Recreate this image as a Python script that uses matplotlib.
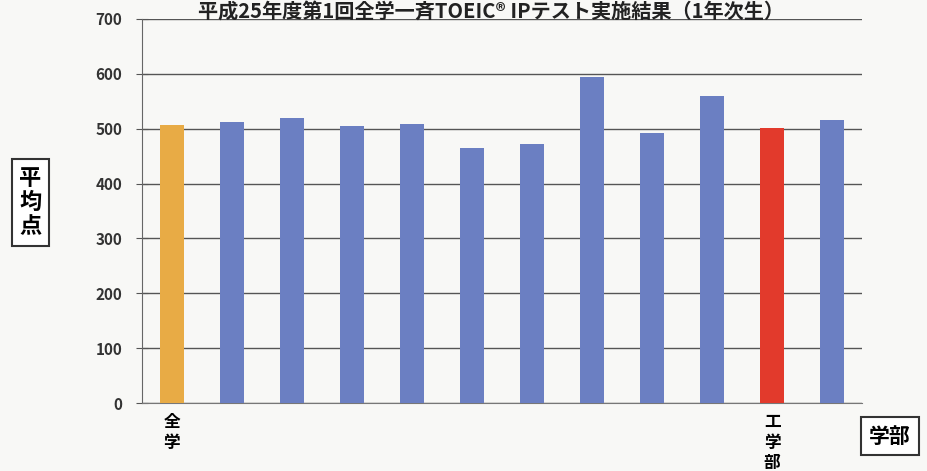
import matplotlib
matplotlib.use("Agg")
import matplotlib.pyplot as plt

plt.rcParams["font.family"] = ["Noto Sans CJK JP", "DejaVu Sans"]

# Data
faculties = ["全学", "", "", "", "", "", "", "", "", "", "工学部", ""]
scores = [507, 513, 519, 504, 509, 464, 472, 594, 492, 560, 502, 515]
colors = ["#e8ab45"] + ["#6b7fc2"] * 9 + ["#e23a2c", "#6b7fc2"]
yticks = [0, 100, 200, 300, 400, 500, 600, 700]

title = "平成25年度第1回全学一斉TOEIC® IPテスト実施結果（1年次生）"

fig = plt.figure(figsize=(9.27, 4.71), dpi=100, facecolor="#f8f8f6")
ax = fig.add_axes([0.153, 0.144, 0.777, 0.816])
ax.set_facecolor("#f8f8f6")

x = range(len(scores))
ax.bar(x, scores, width=0.4, color=colors, zorder=3)

ax.set_xlim(-0.5, len(scores) - 0.5)
ax.set_ylim(0, 700)
ax.set_yticks(yticks)
ax.set_yticklabels([str(t) for t in yticks], fontsize=11, fontweight="bold", color="#333333")
ax.tick_params(axis="y", direction="inout", length=8, color="#555555", pad=10)

ax.set_xticks(list(x))
ax.set_xticklabels(["\n".join(f) for f in faculties], fontsize=12, fontweight="bold",
                   linespacing=1.2, va="top")
ax.tick_params(axis="x", length=0, pad=7)

ax.grid(True, axis="y", color="#555555", linewidth=1.0, zorder=1)
for s in ["top", "right"]:
    ax.spines[s].set_visible(False)
ax.spines["left"].set_color("#666666")
ax.spines["bottom"].set_color("#777777")

fig.text(0.53, 0.999, title, ha="center", va="top", fontsize=14.5, fontweight="bold",
         color="#222222")

fig.text(0.033, 0.57, "平\n均\n点", ha="center", va="center", fontsize=16,
         fontweight="bold", linespacing=1.05,
         bbox=dict(boxstyle="square,pad=0.35", facecolor="white", edgecolor="#333333", lw=1.5))
fig.text(0.96, 0.074, "学部", ha="center", va="center", fontsize=15, fontweight="bold",
         bbox=dict(boxstyle="square,pad=0.4", facecolor="white", edgecolor="#333333", lw=1.5))

plt.savefig("out.png", dpi=100, facecolor=fig.get_facecolor())
